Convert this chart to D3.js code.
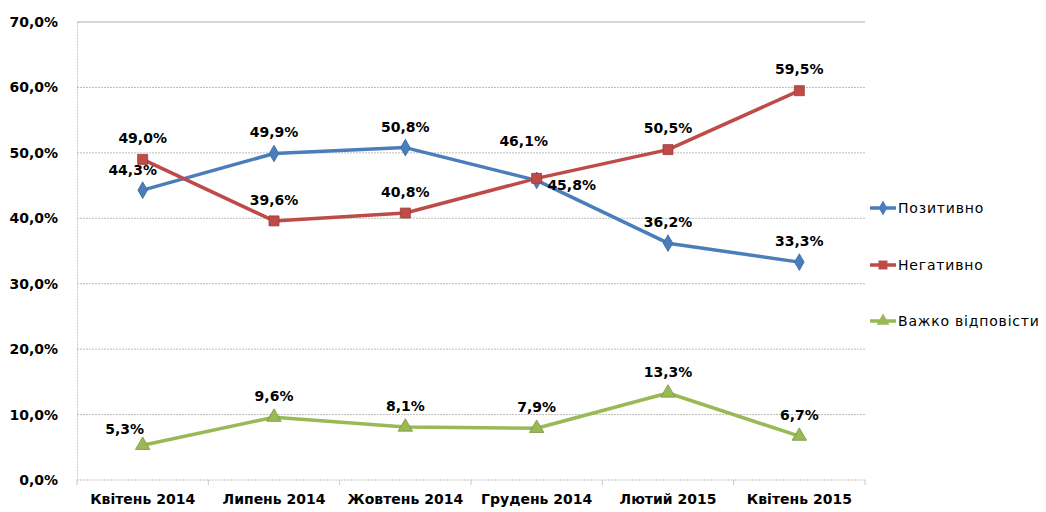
<!DOCTYPE html>
<html>
<head>
<meta charset="utf-8">
<script src="https://cdn.jsdelivr.net/npm/d3@7"></script>
<style>
  body { margin: 0; background: #fff; }
  svg text { font-family: "DejaVu Sans", Verdana, sans-serif; fill: #000; }
</style>
</head>
<body>
<svg id="vis" width="1046" height="512"></svg>
<script>
// chart data
const categories = ['Квітень 2014', 'Липень 2014', 'Жовтень 2014', 'Грудень 2014', 'Лютий 2015', 'Квітень 2015'];
const positive = [44.3, 49.9, 50.8, 45.8, 36.2, 33.3];
const negative = [49.0, 39.6, 40.8, 46.1, 50.5, 59.5];
const hard = [5.3, 9.6, 8.1, 7.9, 13.3, 6.7];
const yTicks = [0, 10, 20, 30, 40, 50, 60, 70];

const series = [
  { name: 'Позитивно', values: positive, color: '#4a7ebb', marker: d3.symbolDiamond, size: 80 },
  { name: 'Негативно', values: negative, color: '#be4b48', marker: d3.symbolSquare, size: 100 },
  { name: 'Важко відповісти', values: hard, color: '#98b954', marker: d3.symbolTriangle, size: 90 }
];

// label offsets per series/point (dx, dy from point)
const labelOffsets = [
  [[-10, -20], [0, -21], [0, -21], [35, 5], [0, -21], [0, -21]],
  [[0, -21], [0, -21], [0, -21], [-13, -37], [0, -21], [0, -22]],
  [[-18, -16], [0, -21], [0, -21], [0, -21], [0, -21], [0, -21]]
];

const vis = d3.select('#vis');
const margin = { left: 77, right: 181, top: 22, bottom: 32 };
const width = 1046 - margin.left - margin.right;
const height = 512 - margin.top - margin.bottom;

const x = d3.scaleBand().domain(categories).range([margin.left, margin.left + width]);
const y = d3.scaleLinear().domain([0, 70]).range([margin.top + height, margin.top]);
const fmt = v => d3.format('.1f')(v).replace('.', ',') + '%';

// gridlines
vis.append('g')
  .selectAll('line')
  .data(yTicks)
  .enter()
  .append('line')
  .attr('x1', margin.left)
  .attr('x2', margin.left + width)
  .attr('y1', d => y(d))
  .attr('y2', d => y(d))
  .attr('stroke', d => d === 70 ? '#b0b0b0' : '#bdbdbd')
  .attr('stroke-width', 1)
  .attr('stroke-dasharray', d => d === 70 ? null : '2,1');

// y axis
const yAxis = vis.append('g')
  .attr('transform', `translate(${margin.left},0)`)
  .call(d3.axisLeft(y).tickValues(yTicks).tickSize(0).tickPadding(19).tickFormat(fmt));
yAxis.select('.domain').attr('stroke', '#c8c8c8').attr('stroke-dasharray', '2,1');
yAxis.selectAll('text').style('font-size', '14px').style('font-weight', 'bold');

// x axis
const xAxis = vis.append('g')
  .attr('transform', `translate(0,${margin.top + height})`)
  .call(d3.axisBottom(x).tickSize(0).tickPadding(14));
xAxis.select('.domain').remove();
xAxis.selectAll('text').style('font-size', '14px').style('font-weight', 'bold');
// boundary ticks
xAxis.selectAll('line.bt')
  .data(d3.range(categories.length + 1))
  .enter()
  .append('line')
  .attr('class', 'bt')
  .attr('x1', i => margin.left + i * x.step())
  .attr('x2', i => margin.left + i * x.step())
  .attr('y1', 0)
  .attr('y2', 5)
  .attr('stroke', '#c8c8c8');

const cx = i => x(categories[i]) + x.bandwidth() / 2;

const line = d3.line()
  .x((d, i) => cx(i))
  .y(d => y(d));

series.forEach((s, si) => {
  const g = vis.append('g');
  g.append('path')
    .datum(s.values)
    .attr('d', line)
    .attr('fill', 'none')
    .attr('stroke', s.color)
    .attr('stroke-width', 3.5)
    .attr('stroke-linejoin', 'round');

  g.selectAll('path.m')
    .data(s.values)
    .enter()
    .append('path')
    .attr('class', 'm')
    .attr('d', d3.symbol().type(s.marker).size(s.size))
    .attr('transform', (d, i) => `translate(${cx(i)},${y(d)})`)
    .attr('fill', s.color)
    .attr('stroke', d3.color(s.color).darker(0.6))
    .attr('stroke-width', 0.8);

  g.selectAll('text')
    .data(s.values)
    .enter()
    .append('text')
    .attr('x', (d, i) => cx(i) + labelOffsets[si][i][0])
    .attr('y', (d, i) => y(d) + labelOffsets[si][i][1])
    .attr('text-anchor', 'middle')
    .attr('dy', '0.35em')
    .style('font-size', '14px')
    .style('font-weight', 'bold')
    .text(d => fmt(d));
});

// legend
const legend = vis.append('g');
const legendY = [208, 265, 321];
series.forEach((s, si) => {
  const lg = legend.append('g').attr('transform', `translate(870,${legendY[si]})`);
  lg.append('line')
    .attr('x1', 0).attr('x2', 26)
    .attr('stroke', s.color).attr('stroke-width', 3.5);
  lg.append('path')
    .attr('d', d3.symbol().type(s.marker).size(s.size * 0.8))
    .attr('transform', 'translate(13,0)')
    .attr('fill', s.color);
  lg.append('text')
    .attr('x', 28)
    .attr('dy', '0.35em')
    .style('font-size', '14px')
    .style('letter-spacing', '0.8px')
    .text(s.name);
});
</script>
</body>
</html>
